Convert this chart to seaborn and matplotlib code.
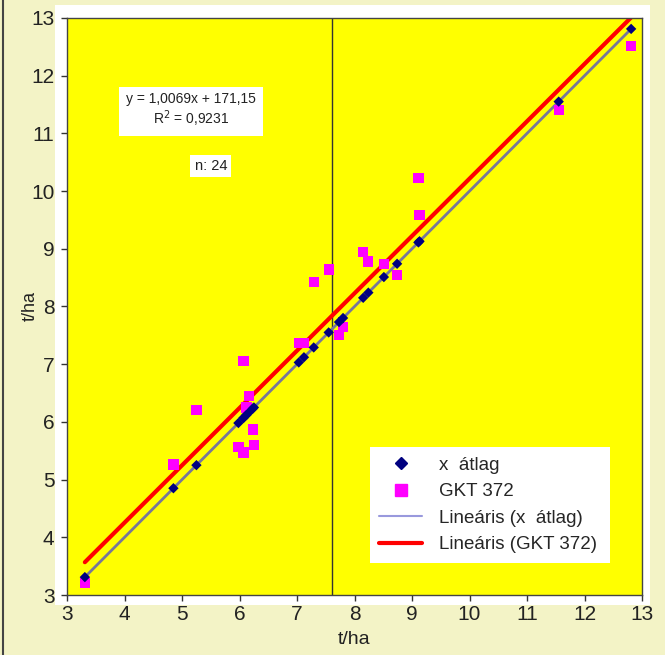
import matplotlib.pyplot as plt
import matplotlib.patches as mpatches
from matplotlib.lines import Line2D
import pandas as pd
import seaborn as sns

# x átlag (t/ha) - the diamonds sit on y = x
x_atlag = [3.31, 4.85, 5.25, 5.98, 6.07, 6.07, 6.12, 6.16, 6.23, 6.25, 7.03, 7.12,
           7.29, 7.55, 7.73, 7.80, 8.15, 8.24, 8.51, 8.74, 9.11, 9.13, 11.55, 12.81]
# GKT 372 yield (t/ha)
gkt_372 = [3.21, 5.26, 6.21, 5.56, 5.47, 7.06, 6.25, 6.45, 5.87, 5.60, 7.37, 7.37,
           8.42, 8.64, 7.51, 7.65, 8.94, 8.78, 8.73, 8.54, 10.23, 9.59, 11.41, 12.51]
mean_line_x = 7.6
ticks = list(range(3, 14))
equation_text = "y = 1,0069x + 171,15\nR$^2$ = 0,9231"
n_text = "n: 24"
legend_labels = ["x  átlag", "GKT 372", "Lineáris (x  átlag)", "Lineáris (GKT 372)"]

df = pd.DataFrame({"x": x_atlag, "atlag": x_atlag, "gkt": gkt_372})

sns.set_theme(style="ticks")
plt.rcParams["font.family"] = ["Liberation Sans Narrow", "Liberation Sans", "DejaVu Sans"]

fig = plt.figure(figsize=(6.65, 6.55), dpi=100, facecolor="#f3f3c6")
# white plot-area frame (Excel style)
fig.patches.append(mpatches.Rectangle((0.083, 0.076), 0.894, 0.916, transform=fig.transFigure,
                                      facecolor="white", edgecolor="none", zorder=-5))
fig.add_artist(Line2D([0.004, 0.004], [0, 1], transform=fig.transFigure, color="#444444", lw=1.5))

ax = fig.add_axes([0.1008, 0.0916, 0.8647, 0.881])
ax.set_facecolor("#ffff00")

ax.axvline(mean_line_x, color="#333333", lw=1, zorder=1)

sns.regplot(data=df, x="x", y="atlag", scatter=False, ci=None, ax=ax,
            line_kws={"color": "#77779a", "lw": 2, "zorder": 2})
sns.regplot(data=df, x="x", y="gkt", scatter=False, ci=None, ax=ax,
            line_kws={"color": "#ff0000", "lw": 3, "zorder": 2})
sns.scatterplot(data=df, x="x", y="gkt", marker="s", s=55, color="#ff00ff",
                edgecolor="none", ax=ax, zorder=3)
sns.scatterplot(data=df, x="x", y="atlag", marker="D", s=28, color="#000080",
                edgecolor="none", ax=ax, zorder=4)

ax.set_xlim(3, 13)
ax.set_ylim(3, 13)
ax.set_xticks(ticks)
ax.set_yticks(ticks)
ax.tick_params(labelsize=15, length=4, width=1, color="#333333", labelcolor="#222222", pad=5)
ax.tick_params(axis="x", pad=3)
for s in ax.spines.values():
    s.set_color("#444444")
    s.set_linewidth(1)
ax.set_xlabel("t/ha", fontsize=14, labelpad=5, color="#222222")
ax.set_ylabel("t/ha", fontsize=13, color="#222222")
ax.yaxis.set_label_coords(-0.05, 0.5)

ax.text(0.215, 0.84, equation_text, transform=ax.transAxes, ha="center", va="center",
        fontsize=10, linespacing=1.15, color="#222222",
        bbox=dict(facecolor="white", edgecolor="none", pad=5))
ax.text(0.25, 0.743, n_text, transform=ax.transAxes, ha="center", va="center",
        fontsize=10.5, color="#222222",
        bbox=dict(facecolor="white", edgecolor="none", pad=3))

handles = [
    Line2D([], [], marker="D", ls="none", color="#000080", markersize=6),
    Line2D([], [], marker="s", ls="none", color="#ff00ff", markersize=9),
    Line2D([], [], color="#9999dd", lw=1.5),
    Line2D([], [], color="#ff0000", lw=3),
]
leg = ax.legend(handles, legend_labels, loc="lower left", bbox_to_anchor=(0.51, 0.04, 0.45, 0.255),
                mode="expand", fontsize=13.5, frameon=True, fancybox=False, handlelength=2.3,
                labelspacing=0.5, borderpad=0.5, handletextpad=0.9)
leg.get_frame().set_facecolor("white")
leg.get_frame().set_edgecolor("none")
leg.get_frame().set_alpha(1)

fig.savefig("out.png", dpi=100, facecolor=fig.get_facecolor())
